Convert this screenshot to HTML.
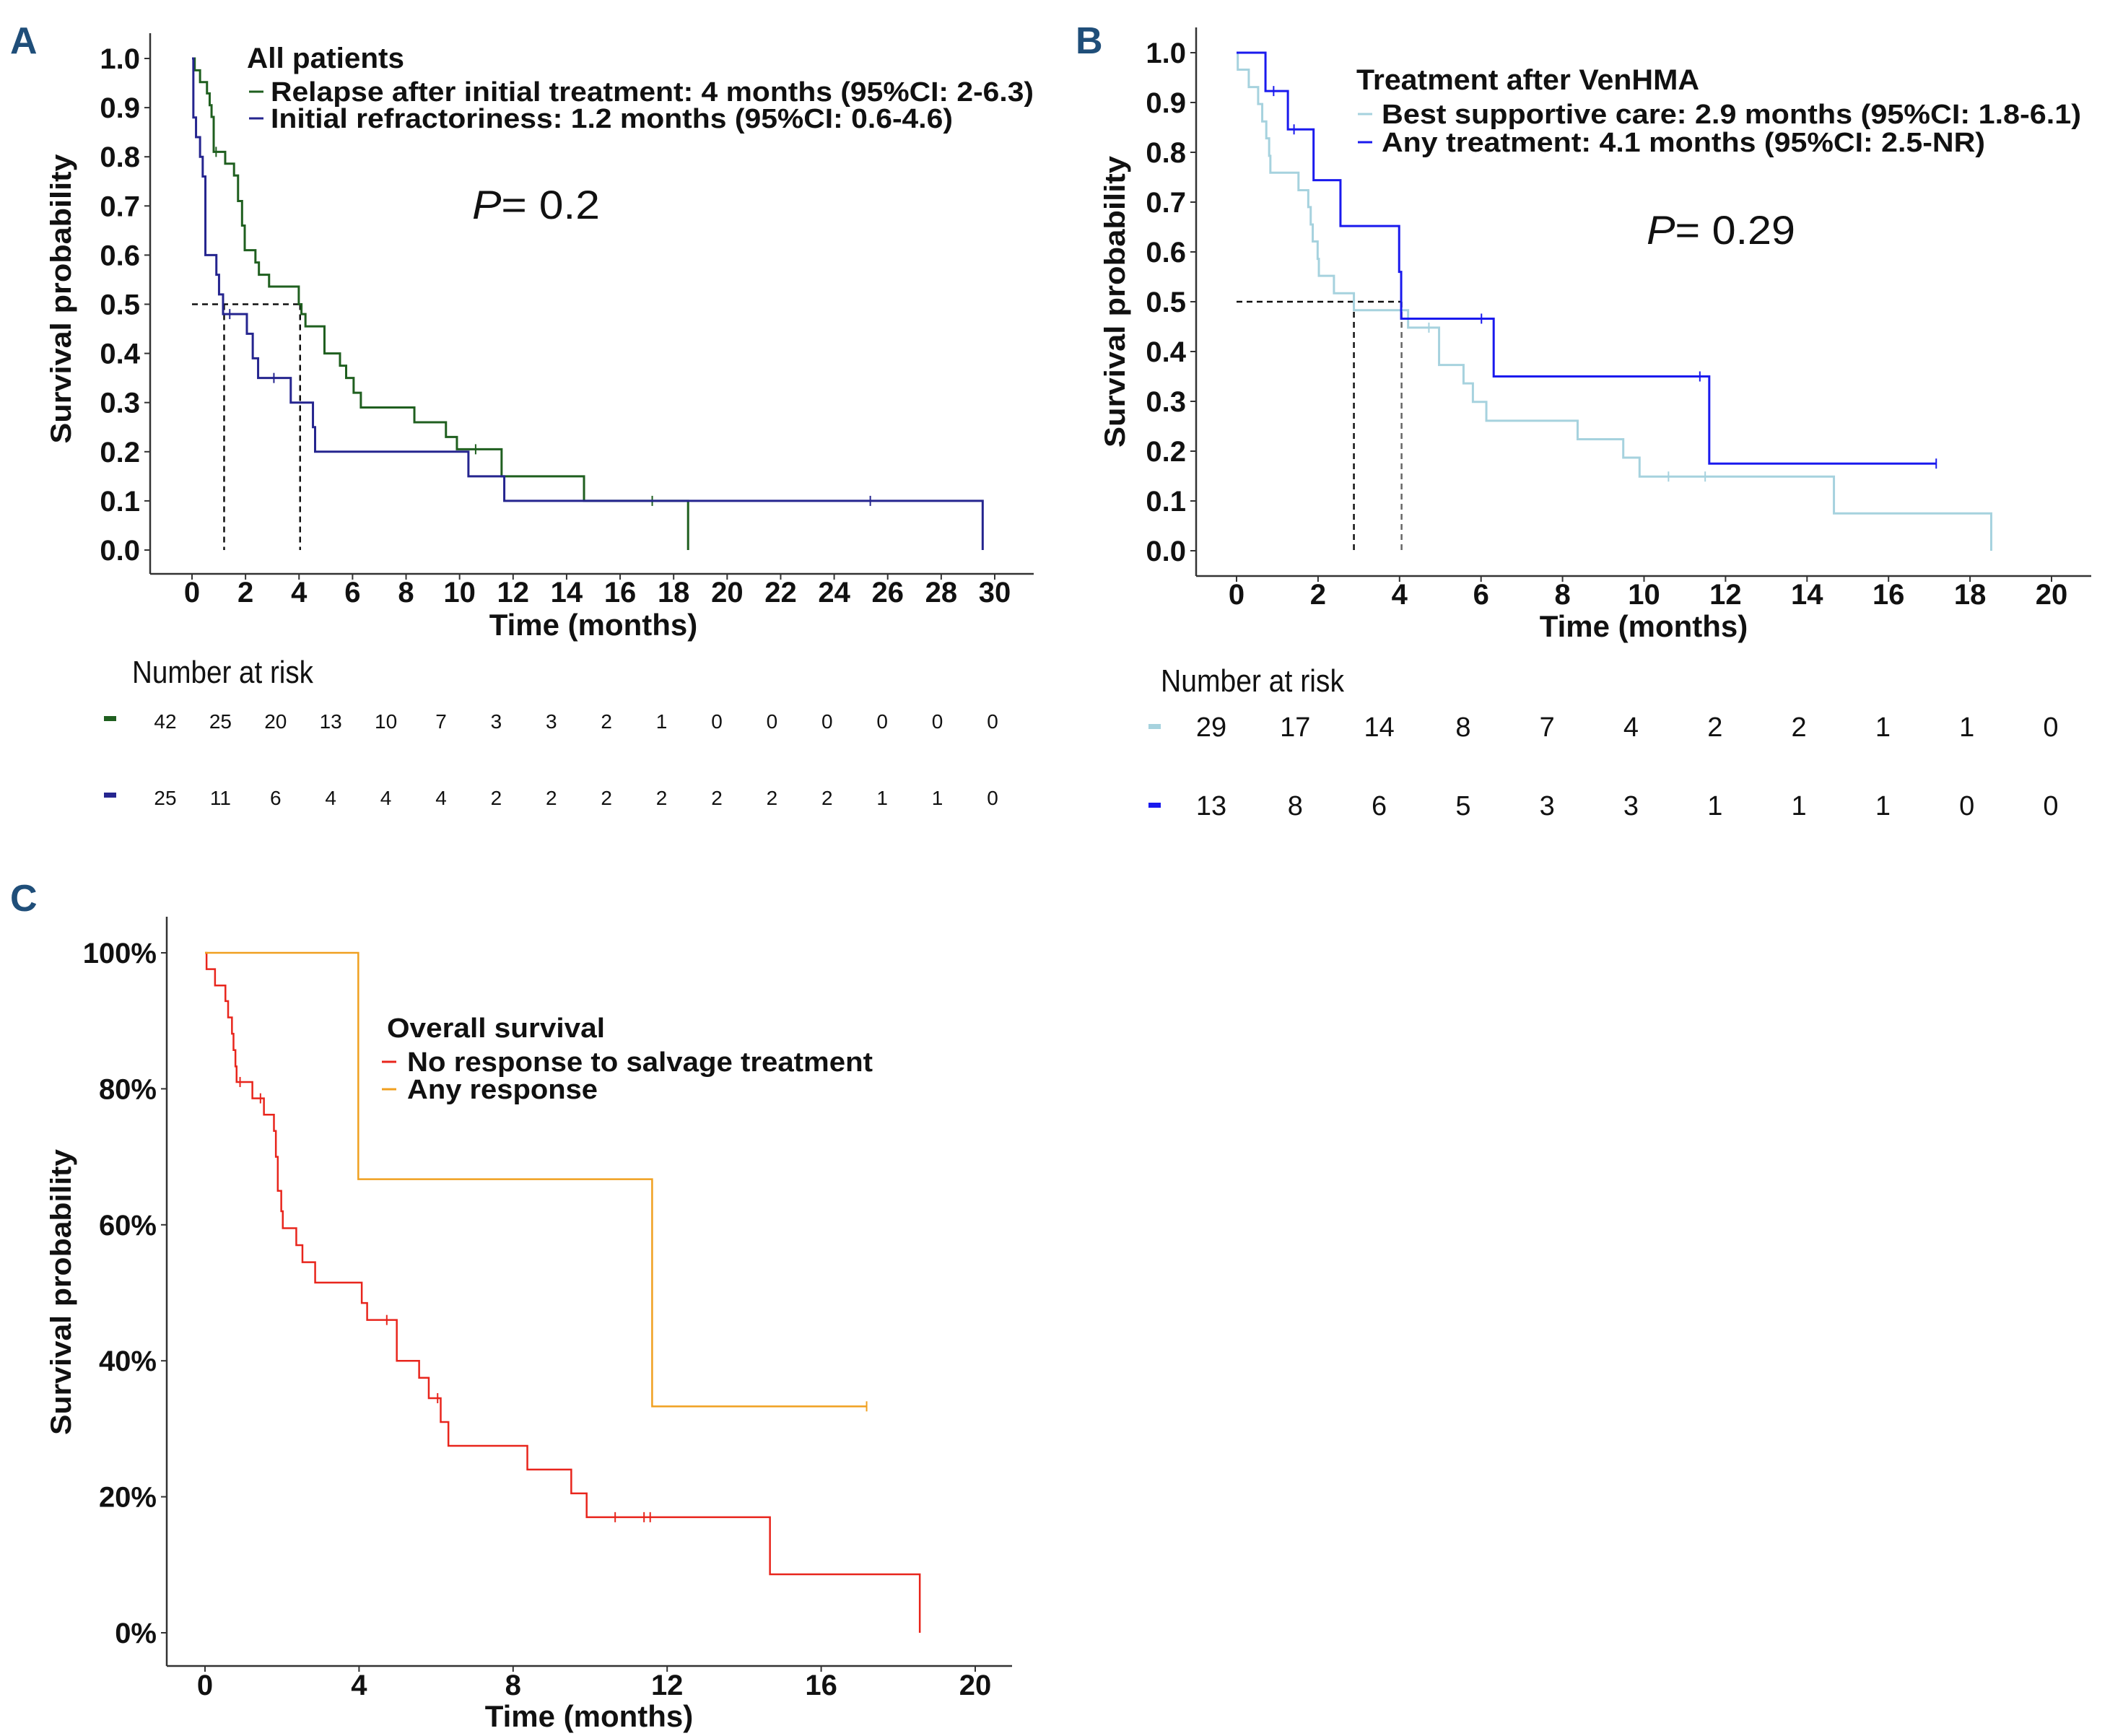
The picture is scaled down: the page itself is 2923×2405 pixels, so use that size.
<!DOCTYPE html>
<html><head><meta charset="utf-8">
<style>
html,body{margin:0;padding:0;background:#fff;}
svg{display:block;font-family:"Liberation Sans",Arial,sans-serif;}
</style></head>
<body>
<svg id="fig" width="2923" height="2405" viewBox="0 0 2923 2405" xmlns="http://www.w3.org/2000/svg">
<rect width="2923" height="2405" fill="#fff"/>
<g id="A"></g>
<g id="B"></g>
<g id="C"></g>
</svg>
<script>
// ---------- Panel A data ----------
const aTicksX=[0,2,4,6,8,10,12,14,16,18,20,22,24,26,28,30];
const aTicksY=[0,0.1,0.2,0.3,0.4,0.5,0.6,0.7,0.8,0.9,1.0];
const aRelapseTimes=[0.1,0.3,0.56,0.66,0.73,0.81,1.24,1.57,1.72,1.87,1.97,2.37,2.5,2.88,3.99,4.09,4.24,4.95,5.53,5.76,6.04,6.31,8.31,9.49,9.9,11.57,14.65,18.54];
const aRelapseSurv=[0.976,0.952,0.929,0.905,0.881,0.81,0.786,0.762,0.71,0.66,0.61,0.585,0.56,0.536,0.5,0.48,0.455,0.40,0.375,0.35,0.32,0.29,0.26,0.23,0.205,0.15,0.10,0];
const aRelapseCens=[0.9,10.6,17.2];
const aRefrTimes=[0.05,0.15,0.3,0.4,0.5,0.91,1.01,1.16,2.05,2.27,2.47,3.69,4.52,4.6,10.33,11.67,29.55];
const aRefrSurv=[0.88,0.84,0.80,0.76,0.60,0.56,0.52,0.48,0.44,0.39,0.35,0.30,0.25,0.20,0.15,0.10,0];
const aRefrCens=[1.41,3.06,25.35];
const aMedians=[1.2,4.04];
const aRiskRelapse=[42,25,20,13,10,7,3,3,2,1,0,0,0,0,0,0];
const aRiskRefr=[25,11,6,4,4,4,2,2,2,2,2,2,2,1,1,0];
// ---------- Panel B data ----------
const bTicksX=[0,2,4,6,8,10,12,14,16,18,20];
const bTicksY=[0,0.1,0.2,0.3,0.4,0.5,0.6,0.7,0.8,0.9,1.0];
const bBscTimes=[0.03,0.3,0.53,0.63,0.73,0.8,0.83,1.52,1.76,1.82,1.87,1.99,2.02,2.39,2.88,4.21,4.97,5.57,5.8,6.13,8.37,9.49,9.89,14.66,18.52];
const bBscSurv=[0.966,0.931,0.897,0.862,0.828,0.793,0.759,0.724,0.69,0.655,0.621,0.586,0.552,0.517,0.483,0.448,0.373,0.336,0.299,0.261,0.224,0.187,0.149,0.075,0];
const bBscCens=[4.72,10.6,11.5];
const bAnyTimes=[0.71,1.26,1.89,2.55,3.99,4.04,6.31,11.6];
const bAnySurv=[0.923,0.846,0.744,0.652,0.56,0.466,0.35,0.175];
const bAnyCens=[0.91,1.41,6.01,11.37,17.17];
const bAnyEnd=17.17;
const bMedians=[2.88,4.05];
const bRiskBsc=[29,17,14,8,7,4,2,2,1,1,0];
const bRiskAny=[13,8,6,5,3,3,1,1,1,0,0];
// ---------- Panel C data ----------
const cTicksX=[0,4,8,12,16,20];
const cTicksY=[0,0.2,0.4,0.6,0.8,1.0];
const cTickLabelsY=["0%","20%","40%","60%","80%","100%"];
const cNoTimes=[0.04,0.26,0.53,0.6,0.7,0.74,0.79,0.82,1.23,1.53,1.79,1.84,1.89,1.98,2.02,2.37,2.53,2.86,4.07,4.21,4.98,5.56,5.81,6.12,6.32,8.37,9.51,9.91,14.67,18.56];
const cNoSurv=[0.976,0.952,0.929,0.905,0.881,0.857,0.833,0.81,0.786,0.762,0.738,0.70,0.65,0.62,0.595,0.57,0.545,0.515,0.485,0.46,0.40,0.375,0.345,0.31,0.275,0.24,0.205,0.17,0.086,0];
const cNoCens=[0.91,1.44,4.72,6.04,10.65,11.4,11.56];
const cAnyTimes=[3.98,11.61];
const cAnySurv=[0.667,0.333];
const cAnyCens=[17.18];
const cAnyEnd=17.18;

const NS="http://www.w3.org/2000/svg";
function mk(parent,tag,attrs,text){const e=document.createElementNS(NS,tag);for(const k in attrs)e.setAttribute(k,attrs[k]);if(text!==undefined)e.textContent=text;parent.appendChild(e);return e;}
function linScale(d0,d1,r0,r1){return v=>r0+(v-d0)/(d1-d0)*(r1-r0);}
function stepPath(sx,sy,times,surv,endT){let t0=0,v=1;let d="M"+sx(0)+","+sy(1);for(let i=0;i<times.length;i++){d+=" H"+sx(times[i])+" V"+sy(surv[i]);v=surv[i];}if(endT!==undefined)d+=" H"+sx(endT);return d;}
function survAt(times,surv,t){let v=1;for(let i=0;i<times.length;i++){if(times[i]<=t)v=surv[i];}return v;}

function drawPanel(g,cfg){
  const sx=linScale(cfg.x0v,cfg.x1v,cfg.x0p,cfg.x1p), sy=linScale(0,1,cfg.y0p,cfg.y1p);
  // axes
  let e=mk(g,'line',{x1:cfg.axL,y1:cfg.axT,x2:cfg.axL,y2:cfg.axB,stroke:'#333',"stroke-width":2.5});
  
  e=mk(g,'line',{x1:cfg.axL,y1:cfg.axB,x2:cfg.axR,y2:cfg.axB,stroke:'#333',"stroke-width":2.5});
  
  cfg.ticksX.forEach(t=>{
    const x=sx(t);
    const tl=mk(g,'line',{x1:x,y1:cfg.axB,x2:x,y2:cfg.axB+8,stroke:'#333',"stroke-width":2});
    
    const tx=mk(g,'text',{x:x,y:cfg.xLabY,"text-anchor":"middle","font-size":cfg.tickFs,"font-weight":"bold",fill:'#111'},String(t));
    
  });
  cfg.ticksY.forEach((t,i)=>{
    const y=sy(t);
    const tl=mk(g,'line',{x1:cfg.axL-8,y1:y,x2:cfg.axL,y2:y,stroke:'#333',"stroke-width":2});
    
    const lab=cfg.yLabels?cfg.yLabels[i]:t.toFixed(1);
    const tx=mk(g,'text',{x:cfg.axL-14,y:y+14,"text-anchor":"end","font-size":cfg.tickFs,"font-weight":"bold",fill:'#111'},lab);
    
  });
  e=mk(g,'text',{x:cfg.xTitleX,y:cfg.xTitleY,"text-anchor":"middle","font-size":42,"font-weight":"bold",fill:'#111'},"Time (months)");
  
  e=mk(g,'text',{x:0,y:0,"text-anchor":"middle","font-size":40,"font-weight":"bold",fill:'#111',transform:`translate(${cfg.yTitleX},${cfg.yTitleY}) rotate(-90)`,textLength:cfg.yTitleLen,lengthAdjust:"spacingAndGlyphs"},"Survival probability");
  
  // medians
  if(cfg.medians){
    const mx=Math.max(...cfg.medians);
    e=mk(g,'line',{x1:sx(0),y1:sy(0.5),x2:sx(mx),y2:sy(0.5),stroke:'#111',"stroke-width":2.5,"stroke-dasharray":"8,6"});
    
    cfg.medians.forEach((m,i)=>{
      const l=mk(g,'line',{x1:sx(m),y1:sy(0.5),x2:sx(m),y2:sy(0),stroke:i===1&&cfg.medGrey?'#666':'#111',"stroke-width":2.5,"stroke-dasharray":"8,6"});
      
    });
  }
  // series
  cfg.series.forEach(s=>{
    const p=mk(g,'path',{d:stepPath(sx,sy,s.times,s.surv,s.end),fill:'none',stroke:s.color,"stroke-width":s.w||3});
    
    s.cens.forEach(t=>{
      const v=survAt(s.times,s.surv,t);
      const c=mk(g,'line',{x1:sx(t),y1:sy(v)-7,x2:sx(t),y2:sy(v)+7,stroke:s.color,"stroke-width":2});
      
    });
  });
  return {sx,sy};
}
function label(g,x,y,t){const e=mk(g,'text',{x:x,y:y,"font-size":52,"font-weight":"bold",fill:'#1f4e79'},t);}
function legendEntry(g,x,y,w,color,text,name,fs,len){
  const l=mk(g,'line',{x1:x,y1:y-13,x2:x+20,y2:y-13,stroke:color,"stroke-width":3});
  
  const t=mk(g,'text',{x:x+w,y:y,"font-size":fs,"font-weight":"bold",fill:'#111',textLength:len,lengthAdjust:"spacingAndGlyphs"},text);
  
}
function riskRow(g,x0,x1,y,vals,color,keyX,fs,name){
  const k=mk(g,'rect',{x:keyX,y:y-17,width:17,height:7,fill:color});
  
  vals.forEach((v,i)=>{
    const x=x0+(x1-x0)*i/(vals.length-1);
    const t=mk(g,'text',{x:x,y:y,"text-anchor":"middle","font-size":fs,fill:'#111'},String(v));
    
  });
}

// Panel A
const gA=document.getElementById('A');
label(gA,14,74,'A');
drawPanel(gA,{x0v:0,x1v:30,x0p:266,x1p:1378,y0p:762,y1p:81,axL:208,axR:1432,axT:46,axB:795,
  ticksX:aTicksX,ticksY:aTicksY,tickFs:40,xLabY:834,xTitleX:822,xTitleY:880,yTitleX:98,yTitleY:414,yTitleLen:401,
  medians:aMedians,
  series:[{name:'relapse',times:aRelapseTimes,surv:aRelapseSurv,cens:aRelapseCens,color:'#1f5f1f'},
          {name:'refractory',times:aRefrTimes,surv:aRefrSurv,cens:aRefrCens,color:'#25258f'}]});
let e=mk(gA,'text',{x:342,y:94,"font-size":40,"font-weight":"bold",fill:'#111',textLength:218,lengthAdjust:"spacingAndGlyphs"},"All patients");

legendEntry(gA,345,140,30,'#1f5f1f',"Relapse after initial treatment: 4 months (95%CI: 2-6.3)",'relapse',38,1057);
legendEntry(gA,345,177,30,'#25258f',"Initial refractoriness: 1.2 months (95%CI: 0.6-4.6)",'refractory',38,945);
e=mk(gA,'text',{x:654,y:303,"font-size":56,fill:'#111',textLength:177,lengthAdjust:"spacingAndGlyphs"});

mk(e,'tspan',{"font-style":"italic"},"P");mk(e,'tspan',{},"= 0.2");
e=mk(gA,'text',{x:183,y:946,"font-size":44,fill:'#111',textLength:251,lengthAdjust:"spacingAndGlyphs"},"Number at risk");

riskRow(gA,229,1375,1009,aRiskRelapse,'#1f5f1f',144,28,'relapse');
riskRow(gA,229,1375,1115,aRiskRefr,'#25258f',144,28,'refractory');

// Panel B
const gB=document.getElementById('B');
label(gB,1490,74,'B');
drawPanel(gB,{x0v:0,x1v:20,x0p:1713,x1p:2842,y0p:763,y1p:73,axL:1657,axR:2897,axT:38,axB:798,
  ticksX:bTicksX,ticksY:bTicksY,tickFs:40,xLabY:837,xTitleX:2277,xTitleY:882,yTitleX:1558,yTitleY:418,yTitleLen:404,
  medians:bMedians,medGrey:true,
  series:[{name:'best-supportive-care',times:bBscTimes,surv:bBscSurv,cens:bBscCens,color:'#a6d2de'},
          {name:'any-treatment',times:bAnyTimes,surv:bAnySurv,cens:bAnyCens,end:bAnyEnd,color:'#1a1aee'}]});
e=mk(gB,'text',{x:1879,y:124,"font-size":40,"font-weight":"bold",fill:'#111',textLength:475,lengthAdjust:"spacingAndGlyphs"},"Treatment after VenHMA");

legendEntry(gB,1881,171,33,'#a6d2de',"Best supportive care: 2.9 months (95%CI: 1.8-6.1)",'best-supportive-care',38,969);
legendEntry(gB,1881,210,33,'#1a1aee',"Any treatment: 4.1 months (95%CI: 2.5-NR)",'any-treatment',38,836);
e=mk(gB,'text',{x:2281,y:338,"font-size":56,fill:'#111',textLength:206,lengthAdjust:"spacingAndGlyphs"});

mk(e,'tspan',{"font-style":"italic"},"P");mk(e,'tspan',{},"= 0.29");
e=mk(gB,'text',{x:1608,y:958,"font-size":44,fill:'#111',textLength:254,lengthAdjust:"spacingAndGlyphs"},"Number at risk");

riskRow(gB,1678,2841,1020,bRiskBsc,'#a6d2de',1591,38,'best-supportive-care');
riskRow(gB,1678,2841,1129,bRiskAny,'#1a1aee',1591,38,'any-treatment');

// Panel C
const gC=document.getElementById('C');
label(gC,14,1262,'C');
drawPanel(gC,{x0v:0,x1v:20,x0p:284,x1p:1351,y0p:2262,y1p:1320,axL:231,axR:1402,axT:1270,axB:2308,
  ticksX:cTicksX,ticksY:cTicksY,yLabels:cTickLabelsY,tickFs:40,xLabY:2348,xTitleX:816,xTitleY:2392,yTitleX:98,yTitleY:1790,yTitleLen:396,
  series:[{name:'no-response',times:cNoTimes,surv:cNoSurv,cens:cNoCens,color:'#e8251c',w:2.5},
          {name:'any-response',times:cAnyTimes,surv:cAnySurv,cens:cAnyCens,end:cAnyEnd,color:'#f0a020',w:2.5}]});
e=mk(gC,'text',{x:536,y:1437,"font-size":38,"font-weight":"bold",fill:'#111',textLength:302,lengthAdjust:"spacingAndGlyphs"},"Overall survival");

legendEntry(gC,529,1484,35,'#e8251c',"No response to salvage treatment",'no-response',38,645);
legendEntry(gC,529,1522,35,'#f0a020',"Any response",'any-response',38,264);
</script>
</body></html>
